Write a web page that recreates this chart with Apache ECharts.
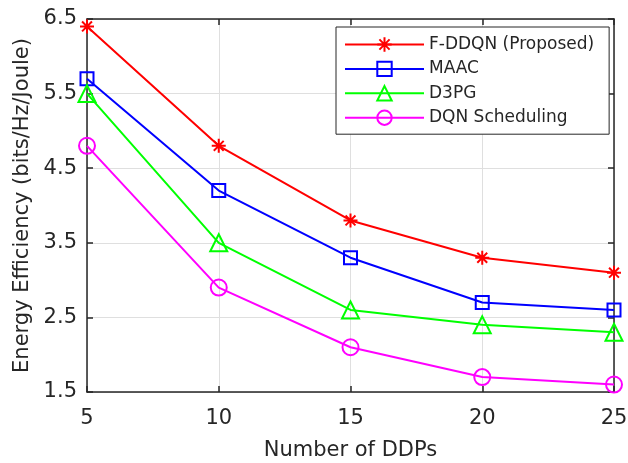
<!DOCTYPE html>
<html>
<head>
<meta charset="utf-8">
<script src="https://cdn.jsdelivr.net/npm/echarts@6/dist/echarts.min.js"></script>
<style>html,body{margin:0;padding:0;background:#fff}#c{width:628px;height:463px}</style>
</head>
<body>
<div id="c"></div>
<script>
const categories = [5, 10, 15, 20, 25];
const fddqn = [6.4, 4.8, 3.8, 3.3, 3.1];
const maac = [5.7, 4.2, 3.3, 2.7, 2.6];
const d3pg = [5.5, 3.5, 2.6, 2.4, 2.3];
const dqn = [4.8, 2.9, 2.1, 1.7, 1.6];
const seriesNames = ['F-DDQN (Proposed)', 'MAAC', 'D3PG', 'DQN Scheduling'];
const xTicks = [5, 10, 15, 20, 25];
const yTicks = [1.5, 2.5, 3.5, 4.5, 5.5, 6.5];

const font = '"DejaVu Sans", Arial, sans-serif';
const txt = '#262626';
const asterisk = 'path://M0,-10L0,10M-10,0L10,0M-7.07,-7.07L7.07,7.07M-7.07,7.07L7.07,-7.07';

function pairs(vals) { return categories.map((x, i) => [x, vals[i]]); }

function mk(name, vals, color, symbol, size) {
  return {
    name: name, type: 'line', data: pairs(vals),
    symbol: symbol, symbolSize: size,
    lineStyle: { color: color, width: 2 },
    itemStyle: { color: 'rgba(0,0,0,0)', borderColor: color, borderWidth: 2 },
    emphasis: { disabled: true },
    z: 3
  };
}

const chart = echarts.init(document.getElementById('c'), null, { renderer: 'canvas' });
const axisLine = { show: true, lineStyle: { color: txt, width: 1.5 } };
chart.setOption({
  animation: false,
  backgroundColor: '#fff',
  textStyle: { fontFamily: font },
  grid: { left: 87, right: 14, top: 19, bottom: 71, containLabel: false, outerBoundsMode: 'none' },
  legend: {
    orient: 'vertical', left: 336, top: 27,
    data: seriesNames,
    itemWidth: 79, itemHeight: 18, itemGap: 7.4,
    padding: [9, 15, 8, 8],
    backgroundColor: '#fff', borderColor: txt, borderWidth: 1,
    textStyle: { fontSize: 17, color: txt, fontFamily: font },
    z: 10
  },
  xAxis: [{
    type: 'value', min: 5, max: 25, interval: 5,
    name: 'Number of DDPs', nameLocation: 'middle', nameGap: 48,
    nameTextStyle: { fontSize: 21, color: txt, fontFamily: font },
    axisLine: axisLine,
    axisTick: { show: true, inside: true, length: 6, lineStyle: { color: txt, width: 1.5 } },
    axisLabel: { fontSize: 21, color: txt, margin: 16, fontFamily: font,
      formatter: v => xTicks.includes(v) ? String(v) : '' },
    splitLine: { show: true, lineStyle: { color: '#dfdfdf', width: 1 } }
  }, {
    type: 'value', min: 5, max: 25, interval: 5, position: 'top',
    axisLine: axisLine,
    axisTick: { show: true, inside: true, length: 6, lineStyle: { color: txt, width: 1.5 } },
    axisLabel: { show: false }, splitLine: { show: false }
  }],
  yAxis: [{
    type: 'value', min: 1.5, max: 6.5, interval: 1,
    name: 'Energy Efficiency (bits/Hz/Joule)', nameLocation: 'middle', nameGap: 53,
    nameTextStyle: { fontSize: 21, color: txt, fontFamily: font },
    axisLine: axisLine,
    axisTick: { show: true, inside: true, length: 6, lineStyle: { color: txt, width: 1.5 } },
    axisLabel: { fontSize: 21, color: txt, margin: 10, fontFamily: font,
      formatter: v => { const t = yTicks.find(y => Math.abs(y - v) < 1e-6); return t !== undefined ? t.toFixed(1) : ''; } },
    splitLine: { show: true, lineStyle: { color: '#dfdfdf', width: 1 } }
  }, {
    type: 'value', min: 1.5, max: 6.5, interval: 1, position: 'right',
    axisLine: axisLine,
    axisTick: { show: true, inside: true, length: 6, lineStyle: { color: txt, width: 1.5 } },
    axisLabel: { show: false }, splitLine: { show: false }
  }],
  series: [
    mk(seriesNames[0], fddqn, '#ff0000', asterisk, 14),
    mk(seriesNames[1], maac, '#0000ff', 'rect', 13),
    mk(seriesNames[2], d3pg, '#00ff00', 'triangle', 17),
    mk(seriesNames[3], dqn, '#ff00ff', 'circle', 16)
  ]
});
</script>
</body>
</html>
